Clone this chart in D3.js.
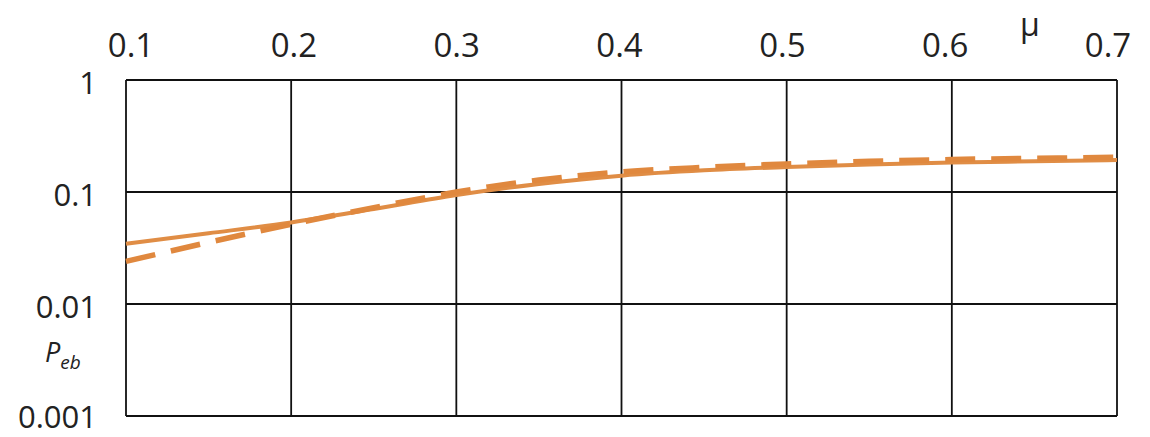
<!DOCTYPE html>
<html>
<head>
<meta charset="utf-8">
<script src="https://cdn.jsdelivr.net/npm/d3@7/dist/d3.min.js"></script>
<style>
  html, body { margin: 0; padding: 0; background: #fff; }
  svg { display: block; }
  text { font-family: "Open Sans", "DejaVu Sans", sans-serif; fill: #222; }
</style>
</head>
<body>
<svg id="chart" width="1150" height="437"></svg>
<script>
// ---- data ----
const muValues = [0.1, 0.15, 0.2, 0.25, 0.3, 0.35, 0.4, 0.45, 0.5, 0.55, 0.6, 0.65, 0.7];
const solidSeries = [0.0345, 0.0428, 0.0535, 0.0705, 0.094, 0.118, 0.140, 0.156, 0.167, 0.176, 0.183, 0.188, 0.193];
const dashedSeries = [0.0240, 0.0355, 0.0515, 0.0725, 0.100, 0.128, 0.151, 0.166, 0.178, 0.188, 0.195, 0.200, 0.204];
const xTicks = [0.1, 0.2, 0.3, 0.4, 0.5, 0.6, 0.7];
const yTicks = [1, 0.1, 0.01, 0.001];
const yTickLabels = ["1", "0.1", "0.01", "0.001"];

const svg = d3.select("#chart");
const W = 1150, H = 437;
const m = { left: 126, right: 1117, top: 80, bottom: 416 };

const x = d3.scaleLinear().domain([0.1, 0.7]).range([m.left, m.right]);
const xLabel = d3.scaleLinear().domain([0.1, 0.7]).range([131, 1108]);
const y = d3.scaleLog().domain([0.001, 1]).range([m.bottom, m.top]);

svg.append("rect").attr("width", W).attr("height", H).attr("fill", "#fff");

// grid
const grid = svg.append("g").attr("stroke", "#111").attr("stroke-width", 1.8);
grid.selectAll("line.v").data(xTicks).join("line")
  .attr("class", "v")
  .attr("x1", d => x(d)).attr("x2", d => x(d))
  .attr("y1", y(1)).attr("y2", y(0.001));
grid.selectAll("line.h").data(yTicks).join("line")
  .attr("class", "h")
  .attr("x1", x(0.1)).attr("x2", x(0.7))
  .attr("y1", d => y(d)).attr("y2", d => y(d));

// x tick labels (top)
svg.append("g").selectAll("text").data(xTicks).join("text")
  .attr("x", d => xLabel(d))
  .attr("y", 57)
  .attr("text-anchor", "middle")
  .attr("font-size", 33)
  .text(d => d3.format(".1f")(d));

// y tick labels
svg.append("g").selectAll("text").data(yTicks).join("text")
  .attr("x", 97)
  .attr("y", d => Math.min(y(d) + 14, 428))
  .attr("text-anchor", "end")
  .attr("font-size", 31)
  .text((d, i) => yTickLabels[i]);

// axis titles
svg.append("text").attr("x", 1030).attr("y", 36).attr("text-anchor", "middle")
  .attr("font-size", 32).text("μ");
const pt = svg.append("text").attr("x", 45).attr("y", 362)
  .attr("font-size", 27).attr("font-style", "italic");
pt.append("tspan").text("P");
pt.append("tspan").attr("font-size", 19).attr("dy", 7).text("eb");

// curves
const line = d3.line().x(d => x(d[0])).y(d => y(d[1])).curve(d3.curveMonotoneX);
svg.append("path")
  .datum(muValues.map((v, i) => [v, solidSeries[i]]))
  .attr("d", line).attr("fill", "none")
  .attr("stroke", "#E08D45").attr("stroke-width", 4);
svg.append("path")
  .datum(muValues.map((v, i) => [v, dashedSeries[i]]))
  .attr("d", line).attr("fill", "none")
  .attr("stroke", "#E0883E").attr("stroke-width", 5.5)
  .attr("stroke-dasharray", "30,16");
</script>
</body>
</html>
